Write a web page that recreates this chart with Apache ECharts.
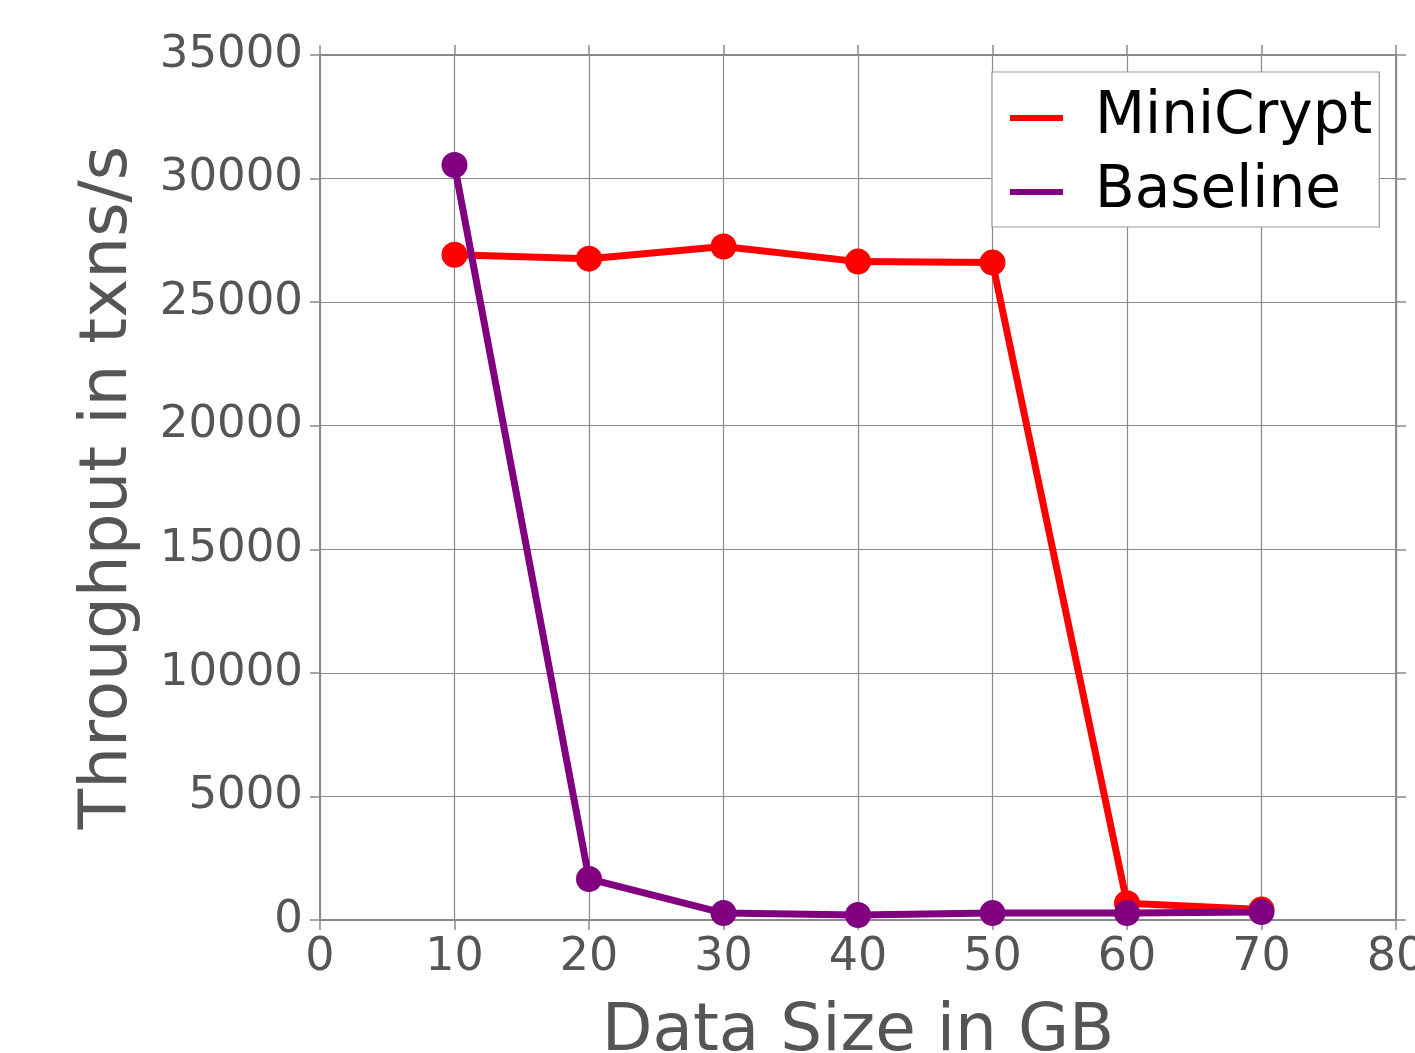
<!DOCTYPE html>
<html><head><meta charset="utf-8">
<script src="https://cdn.jsdelivr.net/npm/echarts@6/dist/echarts.min.js"></script>
<style>html,body{margin:0;padding:0;background:#fff;overflow:hidden}#c{width:1415px;height:1053px}</style>
</head><body><div id="c"></div>
<script>
const xValues = [10, 20, 30, 40, 50, 60, 70];
const miniCrypt = [26920, 26760, 27250, 26640, 26600, 680, 420];
const baseline = [30550, 1660, 280, 200, 280, 280, 320];
const seriesNames = ['MiniCrypt', 'Baseline'];
const seriesColors = ['#ff0000', '#800080'];

const F = 'DejaVu Sans';
const gridColor = '#8a8a8a';
const chart = echarts.init(document.getElementById('c'), null, {renderer: 'canvas'});
const pairs = a => xValues.map((x, i) => [x, a[i]]);
const axisCommon = {
  axisLine: {show: true, onZero: false, lineStyle: {color: gridColor, width: 2}},
  axisTick: {show: true, inside: false, length: 10, lineStyle: {color: gridColor, width: 1.5}},
  splitLine: {show: true, lineStyle: {color: gridColor, width: 1.2}}
};
chart.setOption({
  animation: false,
  grid: {left: 320, right: 19, top: 55, bottom: 133, containLabel: false, outerBoundsMode: 'none'},
  legend: {
    data: seriesNames.map(n => ({name: n, icon: 'rect'})),
    orient: 'vertical', left: 992, top: 72,
    padding: [12, 7, 1, 18], itemGap: 6,
    itemWidth: 53, itemHeight: 6,
    backgroundColor: '#fff', borderColor: '#999', borderWidth: 1.2, borderRadius: 0,
    textStyle: {fontFamily: F, fontSize: 58, lineHeight: 58, color: '#000', padding: [0, 0, 10, 27]}
  },
  xAxis: [{
    type: 'value', min: 0, max: 80, interval: 10, position: 'bottom',
    name: 'Data Size in GB', nameLocation: 'middle', nameGap: 80,
    nameTextStyle: {fontFamily: F, fontSize: 66, color: '#555'},
    axisLabel: {fontFamily: F, fontSize: 46, color: '#555', margin: 15},
    ...axisCommon
  }, {
    type: 'value', min: 0, max: 80, interval: 10, position: 'top',
    axisLabel: {show: false},
    ...axisCommon, splitLine: {show: false}
  }],
  yAxis: [{
    type: 'value', min: 0, max: 35000, interval: 5000, position: 'left',
    name: 'Throughput in txns/s', nameLocation: 'middle', nameGap: 178, nameRotate: 90,
    nameTextStyle: {fontFamily: F, fontSize: 66, color: '#555'},
    axisLabel: {fontFamily: F, fontSize: 45, color: '#555', margin: 17, formatter: v => String(v)},
    ...axisCommon
  }, {
    type: 'value', min: 0, max: 35000, interval: 5000, position: 'right',
    axisLabel: {show: false},
    ...axisCommon, splitLine: {show: false}
  }],
  series: [
    {name: seriesNames[0], type: 'line', data: pairs(miniCrypt), symbol: 'circle', symbolSize: 26,
     color: seriesColors[0], lineStyle: {width: 7, color: seriesColors[0]}, itemStyle: {color: seriesColors[0]}},
    {name: seriesNames[1], type: 'line', data: pairs(baseline), symbol: 'circle', symbolSize: 26,
     color: seriesColors[1], lineStyle: {width: 7, color: seriesColors[1]}, itemStyle: {color: seriesColors[1]}}
  ]
});
</script></body></html>
